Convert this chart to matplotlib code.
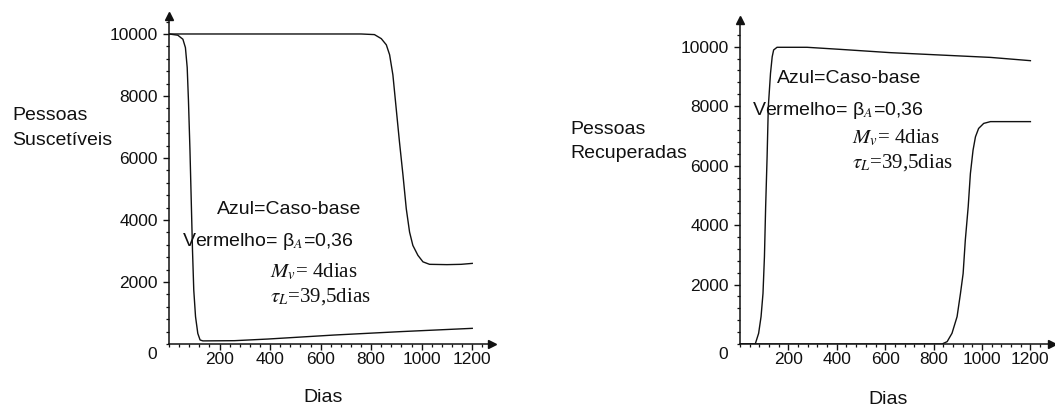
import matplotlib
matplotlib.use("Agg")
import matplotlib.pyplot as plt
from matplotlib.ticker import MultipleLocator, FixedLocator, NullFormatter

plt.rcParams['font.family'] = ['Liberation Sans', 'DejaVu Sans']

# Suscetíveis
sus_fast_days = [0, 35, 55, 65, 72, 77, 83, 88, 93, 98, 105, 114, 123, 134,
                 259, 391, 655, 919, 1200]
sus_fast_vals = [10000, 9960, 9830, 9560, 8920, 7850, 6240, 4630, 3020, 1740,
                 880, 340, 130, 100, 107, 160, 290, 400, 505]
sus_slow_days = [0, 760, 813, 840, 860, 873, 886, 899, 912, 926, 939, 952,
                 965, 985, 1005, 1031, 1100, 1156, 1200]
sus_slow_vals = [10000, 10000, 9980, 9850, 9650, 9330, 8680, 7600, 6520, 5440,
                 4360, 3610, 3180, 2860, 2650, 2570, 2560, 2570, 2600]

# Recuperadas
rec_fast_days = [0, 63, 77, 87, 95, 101, 106, 112, 117, 126, 133, 139, 153,
                 277, 415, 621, 828, 1035, 1200]
rec_fast_vals = [0, 0, 360, 920, 1700, 2940, 4620, 6300, 7980, 9100, 9660,
                 9890, 9980, 9980, 9910, 9800, 9720, 9640, 9530]
rec_slow_days = [0, 835, 856, 876, 897, 911, 922, 931, 943, 952, 963, 973,
                 986, 1007, 1035, 1200]
rec_slow_vals = [0, 0, 80, 360, 920, 1700, 2370, 3490, 4620, 5730, 6520, 6970,
                 7250, 7420, 7480, 7480]

x_major = [200, 400, 600, 800, 1000, 1200]
y_major = [2000, 4000, 6000, 8000, 10000]

W, H = 1055, 412
fig = plt.figure(figsize=(W / 100, H / 100), dpi=100)

INK = '#111111'


def px_axes(x0, y_axis_px, width_px, height_px):
    return fig.add_axes([x0 / W, (H - y_axis_px) / H, width_px / W, height_px / H])


def style(ax, xmax, ymax):
    ax.set_xlim(0, xmax)
    ax.set_ylim(0, ymax)
    for s in ('top', 'right'):
        ax.spines[s].set_visible(False)
    for s in ('left', 'bottom'):
        ax.spines[s].set_linewidth(1.1)
        ax.spines[s].set_color(INK)
    ax.xaxis.set_major_locator(FixedLocator(x_major))
    ax.xaxis.set_minor_locator(MultipleLocator(40))
    ax.yaxis.set_major_locator(FixedLocator(y_major))
    ax.yaxis.set_minor_locator(MultipleLocator(400))
    ax.tick_params(axis='both', which='major', direction='out', length=4.5,
                   width=1.0, colors=INK, labelsize=12.5)
    ax.tick_params(axis='both', which='minor', direction='out', length=2.5,
                   width=0.9, colors=INK)
    ax.tick_params(axis='x', which='major', pad=1)
    ax.tick_params(axis='y', which='major', pad=3.5)
    ax.plot([xmax], [0], marker='>', color=INK, ms=6, clip_on=False)
    ax.plot([0], [ymax], marker='^', color=INK, ms=6, clip_on=False)
    ax.annotate('0', xy=(0, 0), xytext=(-12, -7.5), textcoords='offset points',
                ha='center', va='center', fontsize=12.5, color=INK)


def ftext(x, y, s, **kw):
    kw.setdefault('ha', 'left')
    kw.setdefault('va', 'center')
    kw.setdefault('color', INK)
    fig.text(x / W, 1 - y / H, s, **kw)


def notes(x_azul, y_azul, x_verm, y_verm, x_ser, y_m, y_t):
    ftext(x_azul, y_azul, 'Azul=Caso-base', fontsize=14)
    ftext(x_verm, y_verm, 'Vermelho= β$_{A}$=0,36', fontsize=14,
          math_fontfamily='stix')
    ftext(x_ser, y_m, r'$M_{v}$= 4dias', fontsize=15,
          family='Liberation Serif', math_fontfamily='stix')
    ftext(x_ser, y_t, r'$\tau_{L}$=39,5dias', fontsize=15,
          family='Liberation Serif', math_fontfamily='stix')


# Left panel: susceptible people
ax1 = px_axes(169, 344, 1278 * 0.2527, 328)
style(ax1, 1278, 10580)
ax1.plot(sus_fast_days, sus_fast_vals, color=INK, lw=1.0)
ax1.plot(sus_slow_days, sus_slow_vals, color=INK, lw=1.0)
ftext(12, 115, 'Pessoas', fontsize=14)
ftext(12, 140, 'Suscetíveis', fontsize=14)
ftext(322.7, 398, 'Dias', fontsize=14, ha='center')
notes(216.7, 209.3, 181.7, 241.7, 270, 271.7, 296.7)

# Right panel: recovered people
ax2 = px_axes(740, 344, 1289 * 0.242, 324)
style(ax2, 1289, 10898)
ax2.plot(rec_fast_days, rec_fast_vals, color=INK, lw=1.0)
ax2.plot(rec_slow_days, rec_slow_vals, color=INK, lw=1.0)
ftext(570.7, 129, 'Pessoas', fontsize=14)
ftext(570.7, 154, 'Recuperadas', fontsize=14)
ftext(888, 400, 'Dias', fontsize=14, ha='center')
notes(777.3, 78.3, 751.7, 110.7, 852, 138, 163)

fig.savefig('out.png', dpi=100)
